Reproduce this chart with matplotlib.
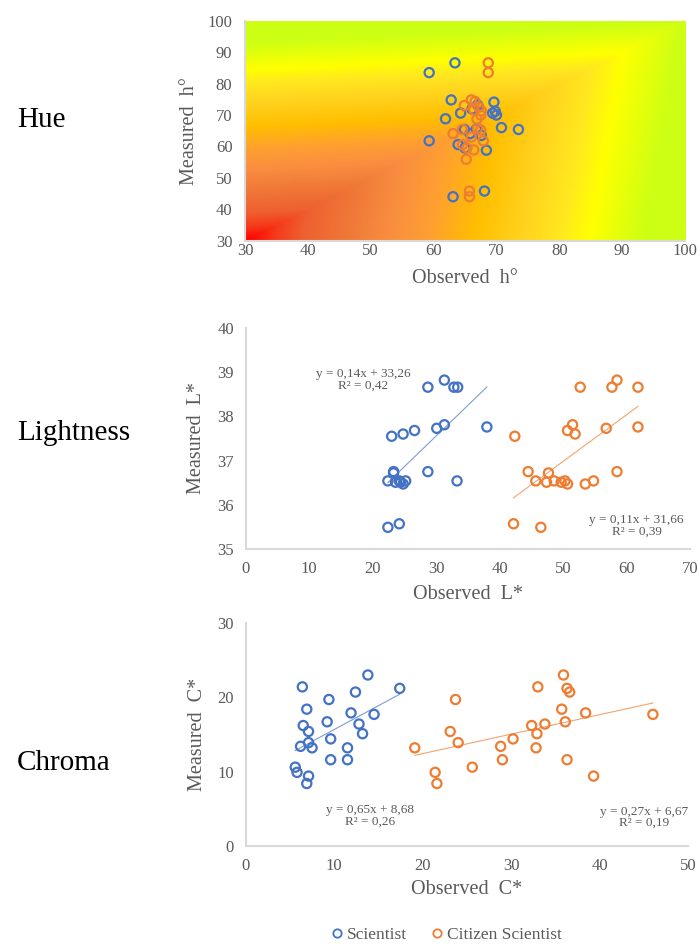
import numpy as np
import matplotlib
matplotlib.use('Agg')
import matplotlib.pyplot as plt
from matplotlib.colors import LinearSegmentedColormap
from matplotlib.lines import Line2D

# Hue (observed h, measured h)
hue_sci_x = [59.3, 63.4, 62.8, 69.6, 67.0, 66.1, 64.3, 69.4, 69.8, 70.0, 61.9, 64.9,
             70.8, 73.5, 65.8, 67.6, 59.3, 63.9, 65.0, 68.4, 68.1, 63.1, 66.8]
hue_sci_y = [83.5, 86.6, 74.8, 74.1, 73.2, 71.9, 70.6, 70.6, 71.2, 70.0, 68.8, 65.4,
             66.0, 65.4, 64.1, 63.5, 61.8, 60.6, 59.5, 58.8, 45.8, 44.0, 65.5]
hue_cit_x = [68.7, 68.7, 66.0, 66.6, 64.9, 66.4, 67.6, 67.5, 66.9, 64.6, 67.0, 67.5,
             63.1, 66.0, 67.9, 64.6, 65.3, 66.4, 65.2, 65.7, 65.7, 67.2]
hue_cit_y = [86.6, 83.5, 74.8, 74.3, 73.0, 71.6, 71.3, 70.0, 68.7, 65.4, 65.8, 65.2,
             64.1, 63.0, 61.8, 60.6, 59.5, 58.9, 55.9, 45.8, 44.0, 72.5]

# Lightness
L_sci_x = [28.7, 31.3, 32.8, 33.4, 23.0, 24.8, 26.6, 30.1, 31.3, 38.0, 23.3, 23.3,
           28.7, 22.4, 23.6, 24.2, 24.4, 24.8, 25.2, 33.3, 22.4, 24.2]
L_sci_y = [38.66, 38.82, 38.66, 38.66, 37.55, 37.60, 37.68, 37.73, 37.81, 37.76, 36.75, 36.72,
           36.75, 36.54, 36.51, 36.54, 36.51, 36.47, 36.54, 36.54, 35.49, 35.57]
L_cit_x = [52.7, 57.7, 58.5, 61.8, 42.4, 50.7, 51.5, 51.9, 56.8, 61.8, 44.5, 47.7,
           58.5, 45.7, 47.4, 48.6, 49.7, 50.3, 50.7, 53.5, 54.8, 42.2, 46.5]
L_cit_y = [38.66, 38.66, 38.82, 38.66, 37.55, 37.68, 37.81, 37.60, 37.73, 37.76, 36.75, 36.72,
           36.75, 36.54, 36.51, 36.54, 36.51, 36.54, 36.47, 36.47, 36.54, 35.57, 35.49]

# Chroma
C_sci_x = [6.4, 5.6, 5.8, 6.9, 6.5, 7.1, 6.2, 7.1, 7.5, 7.1, 6.9, 9.4,
           9.2, 9.6, 9.6, 11.9, 12.4, 12.8, 13.2, 11.5, 11.5, 13.8, 14.5, 17.4]
C_sci_y = [21.4, 10.6, 9.9, 18.4, 16.2, 15.4, 13.4, 13.9, 13.2, 9.4, 8.4, 19.7,
           16.7, 14.4, 11.6, 17.9, 20.7, 16.4, 15.1, 13.2, 11.6, 23.0, 17.7, 21.2]
C_cit_x = [19.1, 21.4, 21.6, 23.7, 23.1, 24.0, 25.6, 28.8, 29.0, 30.2, 32.3, 32.8,
           32.9, 33.0, 33.8, 35.7, 35.9, 36.1, 36.3, 36.6, 36.3, 38.4, 39.3, 46.0]
C_cit_y = [13.2, 9.9, 8.4, 19.7, 15.4, 13.9, 10.6, 13.4, 11.6, 14.4, 16.2, 13.2,
           15.1, 21.4, 16.4, 18.4, 23.0, 16.7, 21.2, 20.7, 11.6, 17.9, 9.4, 17.7]

L_eq = ['y = 0,14x + 33,26\nR² = 0,42', 'y = 0,11x + 31,66\nR² = 0,39']
C_eq = ['y = 0,65x + 8,68\nR² = 0,26', 'y = 0,27x + 6,67\nR² = 0,19']

blue = '#4472C4'
orange = '#ED7D31'
grey = '#595959'
spine = '#D9D9D9'

plt.rcParams['font.family'] = ['Liberation Serif', 'DejaVu Serif']

fig = plt.figure(figsize=(7, 9.47), dpi=100)

def style(ax, xpad, ypad):
    ax.tick_params(length=0, labelsize=12, labelcolor=grey)
    ax.tick_params(axis='x', pad=xpad)
    ax.tick_params(axis='y', pad=ypad)
    for s in ['top', 'right']:
        ax.spines[s].set_visible(False)
    for s in ['left', 'bottom']:
        ax.spines[s].set_color(spine)
        ax.spines[s].set_linewidth(1.5)

def labels(ax, xl, yl, xy, yx):
    ax.set_xlabel(xl, fontsize=14.5, color=grey)
    ax.set_ylabel(yl, fontsize=14.5, color=grey)
    ax.xaxis.set_label_coords(0.5, xy)
    ax.yaxis.set_label_coords(yx, 0.5)
    ax.xaxis.label.set_va('center')
    ax.yaxis.label.set_va('center')
    ax.yaxis.label.set_rotation_mode('default')

def pts(ax, x, y, c):
    ax.scatter(x, y, s=44, facecolors='none', edgecolors=c, linewidths=1.6, zorder=3)

def trend(ax, x, y, c):
    k, b = np.polyfit(x, y, 1)
    xs = np.array([min(x), max(x)])
    ax.plot(xs, k * xs + b, color=c, lw=0.8, alpha=0.7, zorder=2)

# Hue panel with colour background
ax1 = fig.add_axes([0.35, 0.7458, 0.6286, 0.2323])
cmap = LinearSegmentedColormap.from_list('hue', [
    (0.0, '#FF0000'), (0.07, '#F53A1A'), (0.14, '#EE6030'), (0.26, '#F07A38'),
    (0.36, '#F98E40'), (0.46, '#FFA030'), (0.57, '#FFBE00'), (0.69, '#FFD21E'),
    (0.79, '#FFE820'), (0.86, '#FFFF00'), (1.0, '#CCFF14')])
g = np.linspace(30, 100, 200)
gx, gy = np.meshgrid(g, g)
v = np.clip(np.maximum(gx, gy) + 0.1 * np.abs(gx - gy), 30, 100)
ax1.imshow(v, extent=[30, 100, 30, 100], origin='lower', aspect='auto',
           cmap=cmap, vmin=30, vmax=100, interpolation='bilinear', zorder=0)
pts(ax1, hue_sci_x, hue_sci_y, blue)
pts(ax1, hue_cit_x, hue_cit_y, orange)
ax1.set_xlim(30, 100)
ax1.set_ylim(30, 100)
ax1.set_xticks(range(30, 101, 10))
ax1.set_yticks(range(30, 101, 10))
style(ax1, 1.5, 9)
labels(ax1, 'Observed  h°', 'Measured  h°', -0.17, -0.125)

# Lightness
ax2 = fig.add_axes([0.351, 0.4203, 0.6347, 0.2334])
pts(ax2, L_sci_x, L_sci_y, blue)
pts(ax2, L_cit_x, L_cit_y, orange)
trend(ax2, L_sci_x, L_sci_y, blue)
trend(ax2, L_cit_x, L_cit_y, orange)
ax2.set_xlim(0, 70)
ax2.set_ylim(35, 40)
ax2.set_xticks(range(0, 71, 10))
style(ax2, 8.5, 8.5)
labels(ax2, 'Observed  L*', 'Measured  L*', -0.208, -0.11)
ax2.text(18.5, 38.83, L_eq[0], ha='center', va='center', fontsize=9.5, color=grey, linespacing=0.95)
ax2.text(61.6, 35.53, L_eq[1], ha='center', va='center', fontsize=9.5, color=grey, linespacing=0.95)

# Chroma
ax3 = fig.add_axes([0.351, 0.1067, 0.6323, 0.2355])
pts(ax3, C_sci_x, C_sci_y, blue)
pts(ax3, C_cit_x, C_cit_y, orange)
trend(ax3, C_sci_x, C_sci_y, blue)
trend(ax3, C_cit_x, C_cit_y, orange)
ax3.set_xlim(0, 50)
ax3.set_ylim(0, 30)
ax3.set_xticks(range(0, 51, 10))
ax3.set_yticks(range(0, 31, 10))
style(ax3, 8.5, 8.5)
labels(ax3, 'Observed  C*', 'Measured  C*', -0.197, -0.11)
ax3.text(14.0, 4.0, C_eq[0], ha='center', va='center', fontsize=9.5, color=grey, linespacing=0.95)
ax3.text(45.0, 3.85, C_eq[1], ha='center', va='center', fontsize=9.5, color=grey, linespacing=0.95)

# row titles
fig.text(17 / 700, 1 - 120 / 947, 'Hue', fontsize=21, va='center')
fig.text(17 / 700, 1 - 433 / 947, 'Lightness', fontsize=21, va='center')
fig.text(17 / 700, 1 - 763 / 947, 'Chroma', fontsize=21, va='center')

handles = [Line2D([], [], ls='none', marker='o', ms=6, mfc='none', mec=blue, mew=1.3),
           Line2D([], [], ls='none', marker='o', ms=6, mfc='none', mec=orange, mew=1.3)]
fig.legend(handles, ['Scientist', 'Citizen Scientist'], loc='center',
           bbox_to_anchor=(445 / 700, 1 - 935 / 947), ncol=2, frameon=False,
           fontsize=12.5, labelcolor=grey, handletextpad=0.1, columnspacing=1.2,
           handlelength=1.0)

fig.savefig('out.png', dpi=100)
